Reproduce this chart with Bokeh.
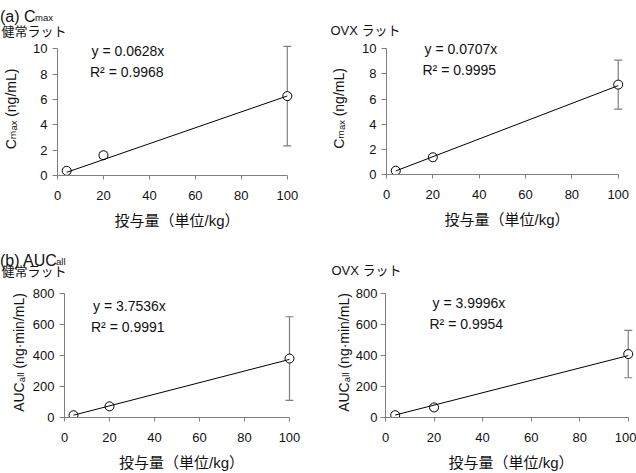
from bokeh.plotting import figure
from bokeh.layouts import column, row
from bokeh.models import Label, Whisker, ColumnDataSource, FixedTicker, Range1d, TeeHead
from bokeh.embed import file_html
from bokeh.resources import INLINE

# ---- data -------------------------------------------------------------
dose = [4, 20, 100]

cmax_normal = [0.37, 1.6, 6.27]
cmax_normal_sd = [0.1, 0.25, 3.93]
cmax_ovx = [0.3, 1.37, 7.15]
cmax_ovx_sd = [0.08, 0.2, 1.95]

auc_normal = [15, 72, 381]
auc_normal_sd = [5, 15, 270]
auc_ovx = [15, 65, 410]
auc_ovx_sd = [5, 14, 153]

slopes = [0.0628, 0.0707, 3.7536, 3.9996]
r_squared = [0.9968, 0.9995, 0.9991, 0.9954]

x_ticks = [0, 20, 40, 60, 80, 100]
cmax_ticks = [0, 2, 4, 6, 8, 10]
auc_ticks = [0, 200, 400, 600, 800]

x_title = "投与量（単位/kg）"
cmax_title = "Cₘₐₓ (ng/mL)"
auc_title = "AUCₐₗₗ (ng·min/mL)"
group_normal = "健常ラット"
group_ovx = "OVX ラット"

# ---- styling ------------------------------------------------------------
FONT = "'Liberation Sans', 'DejaVu Sans', 'Noto Sans CJK JP', sans-serif"
AXIS_GRAY = "#7f7f7f"
TEXT = "#111111"


def label(target, text, sx, sy, size, baseline="alphabetic"):
    target.add_layout(Label(
        text=text, x=sx, y=sy, x_units="screen", y_units="screen",
        text_font=FONT, text_font_size=size, text_color=TEXT,
        text_align="left", text_baseline=baseline,
    ))


def strip(w, h):
    """An axis-free canvas that carries the panel headings."""
    f = figure(width=w, height=h, x_range=Range1d(0, 1), y_range=Range1d(0, 1),
               x_axis_type=None, y_axis_type=None,
               output_backend="svg", toolbar_location=None,
               min_border_left=0, min_border_right=0,
               min_border_top=0, min_border_bottom=0)
    f.grid.visible = False
    f.outline_line_color = None
    f.background_fill_color = "white"
    f.border_fill_color = "white"
    return f


class Block:
    """One panel: heading strip on top, chart below it."""

    def __init__(self, W, H, top, axis_x, frame_right, frame_bottom):
        self.W, self.H, self.top = W, H, top
        self.axis_x, self.frame_bottom = axis_x, frame_bottom
        self.frame_right = frame_right
        self.head = strip(W, top)

    # positions below are block-local pixels measured from the top-left
    def head_text(self, text, x, y, size, baseline="alphabetic"):
        label(self.head, text, x, self.top - y, size, baseline)

    def plot_text(self, text, x, y, size):
        label(self.plot, text, x - self.axis_x, self.frame_bottom - y, size)

    def build_plot(self, vals, errs, slope, yticks, y_end, x_end, y_title,
                   y_standoff=5, title_standoff=10):
        p = figure(width=self.W, height=self.H - self.top,
                   x_range=Range1d(0, x_end), y_range=Range1d(0, y_end),
                   output_backend="svg", toolbar_location=None,
                   min_border_left=self.axis_x,
                   min_border_right=self.W - self.frame_right,
                   min_border_top=0,
                   min_border_bottom=self.H - self.frame_bottom)
        p.grid.visible = False
        p.outline_line_color = None
        p.background_fill_color = "white"
        p.border_fill_color = "white"

        for ax in (p.xaxis[0], p.yaxis[0]):
            ax.axis_line_color = AXIS_GRAY
            ax.axis_line_width = 1
            ax.major_tick_line_color = AXIS_GRAY
            ax.minor_tick_line_color = None
            ax.major_tick_in = 0
            ax.major_label_text_font = FONT
            ax.major_label_text_font_size = "13px"
            ax.major_label_text_color = TEXT
            ax.axis_label_text_font = FONT
            ax.axis_label_text_font_style = "normal"
            ax.axis_label_text_color = TEXT

        p.xaxis.bounds = (0, x_ticks[-1])
        p.yaxis.bounds = (0, yticks[-1])
        p.xaxis.ticker = FixedTicker(ticks=x_ticks)
        p.yaxis.ticker = FixedTicker(ticks=yticks)
        p.xaxis.major_tick_out = 4
        p.yaxis.major_tick_out = 5
        p.xaxis.major_label_standoff = 11
        p.yaxis.major_label_standoff = y_standoff

        p.xaxis.axis_label = x_title
        p.xaxis.axis_label_text_font_size = "15px"
        p.xaxis.axis_label_standoff = 9

        p.yaxis.axis_label = y_title
        p.yaxis.axis_label_text_font_size = "14px"
        p.yaxis.axis_label_standoff = title_standoff

        src = ColumnDataSource(dict(
            x=dose, y=vals,
            lo=[v - e for v, e in zip(vals, errs)],
            hi=[v + e for v, e in zip(vals, errs)],
        ))
        p.add_layout(Whisker(
            source=src, base="x", lower="lo", upper="hi", dimension="height",
            line_color=AXIS_GRAY, line_width=1.2,
            lower_head=TeeHead(size=8, line_color=AXIS_GRAY, line_width=1.2),
            upper_head=TeeHead(size=8, line_color=AXIS_GRAY, line_width=1.2),
        ))
        p.scatter("x", "y", source=src, size=9, fill_color="white",
                  line_color="black", line_width=1)

        # linear trend through the origin, spanning the dosed range
        fit_x = [dose[0], dose[-1]]
        p.line(fit_x, [slope * v for v in fit_x], line_color="black", line_width=1)
        self.plot = p
        return p

    def layout(self):
        # the chart sits in its own row so the heading keeps its full width
        return column(self.head, row(self.plot))


# ---- (a) Cmax, normal rats ------------------------------------------------
b1 = Block(318, 236, 42, 56, 296, 175)
b1.build_plot(cmax_normal, cmax_normal_sd, slopes[0], cmax_ticks, 10.5, 104,
              cmax_title, title_standoff=11)
b1.head_text("(a) C", -0.5, 15.5, "16px")
b1.head_text("max", 34.5, 16.5, "9.5px")
b1.head_text(group_normal, 1, 30.5, "13px", baseline="middle")
b1.plot_text(f"y = {slopes[0]:.4f}x", 90, 50.5, "14px")
b1.plot_text(f"R² = {r_squared[0]:.4f}", 88.5, 71.5, "14px")

# ---- (a) Cmax, OVX rats ---------------------------------------------------
b2 = Block(318, 236, 42, 68, 309, 174)
b2.build_plot(cmax_ovx, cmax_ovx_sd, slopes[1], cmax_ticks, 10.5, 104,
              cmax_title, title_standoff=12)
b2.head_text(group_ovx, 12, 30, "13px", baseline="middle")
b2.plot_text(f"y = {slopes[1]:.4f}x", 106, 48.7, "14px")
b2.plot_text(f"R² = {r_squared[1]:.4f}", 104, 69, "14px")

# ---- (b) AUCall, normal rats ---------------------------------------------
b3 = Block(318, 237, 51, 64, 298, 181)
b3.build_plot(auc_normal, auc_normal_sd, slopes[2], auc_ticks, 840, 104,
              auc_title, title_standoff=3)
b3.head_text("(b) AUC", -0.5, 23.5, "16px")
b3.head_text("all", 55.5, 24.5, "9.5px")
b3.head_text(group_normal, 1, 35, "13px", baseline="middle")
b3.plot_text(f"y = {slopes[2]:.4f}x", 92.5, 69.7, "14px")
b3.plot_text(f"R² = {r_squared[2]:.4f}", 90.5, 90, "14px")

# ---- (b) AUCall, OVX rats ------------------------------------------------
b4 = Block(318, 237, 51, 67, 318, 181)
b4.build_plot(auc_ovx, auc_ovx_sd, slopes[3], auc_ticks, 840, 103.4,
              auc_title, y_standoff=3, title_standoff=1)
b4.head_text(group_ovx, 13, 34, "13px", baseline="middle")
b4.plot_text(f"y = {slopes[3]:.4f}x", 114, 66.7, "14px")
b4.plot_text(f"R² = {r_squared[3]:.4f}", 111, 87.3, "14px")

page = column(row(b1.layout(), b2.layout()), row(b3.layout(), b4.layout()))

with open("out.html", "w") as f:
    f.write(file_html(page, INLINE))
